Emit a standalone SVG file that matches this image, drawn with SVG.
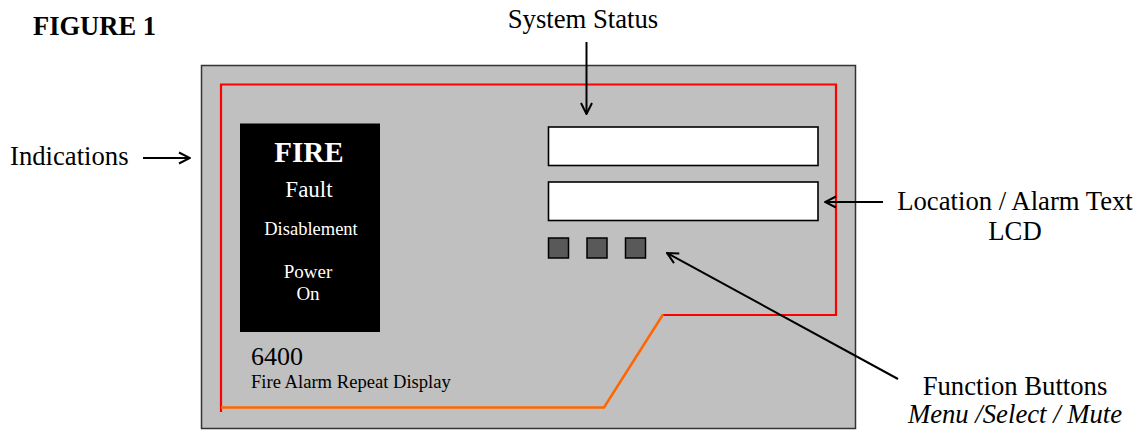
<svg xmlns="http://www.w3.org/2000/svg" width="1142" height="430" viewBox="0 0 1142 430">
<defs>
<style>
text{font-family:"Liberation Serif","Times New Roman",serif;fill:#000}
.lbl{font-size:26.7px}
.w{fill:#fff}
.conn{fill:none;stroke:#000;stroke-width:2}
.lcd{fill:#fff;stroke:#000;stroke-width:1.6}
.btn{fill:#595959;stroke:#000;stroke-width:1.5}
</style>
<marker id="ah" viewBox="0 0 14 14" refX="13" refY="7" markerWidth="14" markerHeight="14" markerUnits="userSpaceOnUse" orient="auto">
<path d="M2,1.5 L13,7 L2,12.5" fill="none" stroke="#000" stroke-width="2"/>
</marker>
</defs>
<rect width="1142" height="430" fill="#fff"/>
<text x="33" y="35" font-weight="bold" font-size="26.5">FIGURE 1</text>
<g id="panel">
<rect x="201.5" y="65.5" width="654" height="363" fill="#c0c0c0" stroke="#333" stroke-width="1.5"/>
<path d="M221,412 V84.5 H836 V315 H663" fill="none" stroke="#ff0000" stroke-width="2.2"/>
<path d="M221,407.5 H604 L663,314.5" fill="none" stroke="#ff6600" stroke-width="2.5"/>
</g>
<g id="indications">
<rect x="240" y="123.5" width="140" height="208.5" fill="#000"/>
<text x="309" y="161.5" text-anchor="middle" font-weight="bold" font-size="29" class="w">FIRE</text>
<text x="309" y="197" text-anchor="middle" font-size="23" class="w">Fault</text>
<text x="311" y="235" text-anchor="middle" font-size="18.5" class="w">Disablement</text>
<text x="308" y="278" text-anchor="middle" font-size="19" class="w">Power</text>
<text x="308" y="300" text-anchor="middle" font-size="19" class="w">On</text>
</g>
<g id="model">
<text x="251" y="365" font-size="26">6400</text>
<text x="251" y="388" font-size="18.6">Fire Alarm Repeat Display</text>
</g>
<g id="lcd">
<rect class="lcd" x="548.5" y="127" width="269.5" height="38.5"/>
<rect class="lcd" x="548.5" y="182" width="269.5" height="38.5"/>
</g>
<g id="buttons">
<rect class="btn" x="548.5" y="238" width="20" height="20"/>
<rect class="btn" x="587" y="238" width="20" height="20"/>
<rect class="btn" x="625.5" y="238" width="20" height="20"/>
</g>
<g id="labels">
<text x="583" y="28" text-anchor="middle" class="lbl">System Status</text>
<text x="10" y="165" class="lbl">Indications</text>
<text x="1015" y="210" text-anchor="middle" class="lbl">Location / Alarm Text</text>
<text x="1015" y="240" text-anchor="middle" class="lbl">LCD</text>
<text x="1015" y="395" text-anchor="middle" class="lbl">Function Buttons</text>
<text x="1015" y="423" text-anchor="middle" class="lbl" font-style="italic">Menu /Select / Mute</text>
</g>
<g id="connectors">
<line class="conn" x1="586.5" y1="42" x2="586.5" y2="114" marker-end="url(#ah)"/>
<line class="conn" x1="143" y1="158" x2="190" y2="158" marker-end="url(#ah)"/>
<line class="conn" x1="883" y1="202" x2="825" y2="202" marker-end="url(#ah)"/>
<line class="conn" stroke-width="1.5" x1="898" y1="379" x2="667" y2="253" marker-end="url(#ah)"/>
</g>
</svg>
